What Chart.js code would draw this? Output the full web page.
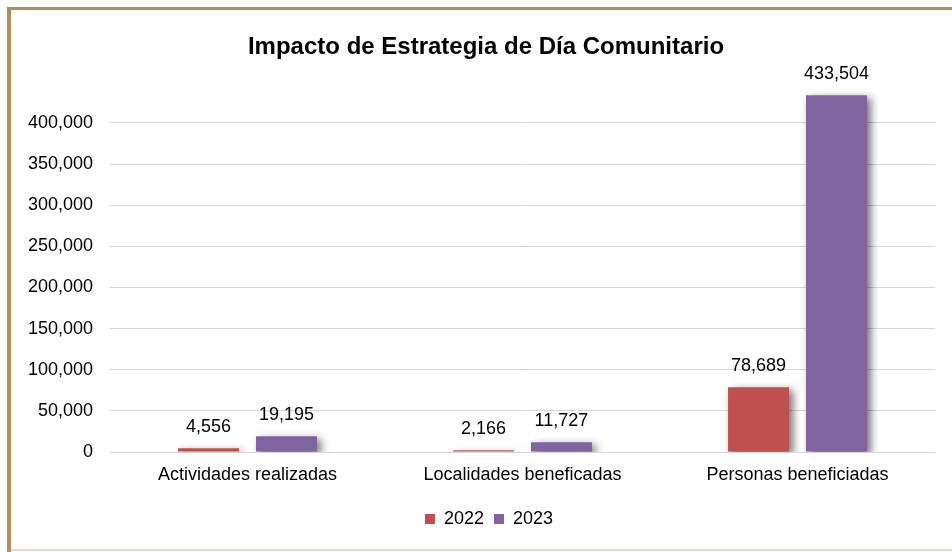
<!DOCTYPE html>
<html>
<head>
<meta charset="utf-8">
<script src="https://cdn.jsdelivr.net/npm/chart.js@4.4.1/dist/chart.umd.min.js"></script>
<style>
  html, body { margin:0; padding:0; background:#fff; }
  body { width:952px; height:552px; position:relative; overflow:hidden; font-family:"Liberation Sans", Arial, sans-serif; }
  #bl { position:absolute; left:7px; top:7px; width:4px; height:545px; background:#b28e5e; }
  #bt { position:absolute; left:7px; top:7px; width:945px; height:3px; background:#b28e5e; }
  #bb { position:absolute; left:11px; top:549px; width:941px; height:2px; background:#e2d9cb; }
  #wrap { position:absolute; left:0; top:0; width:952px; height:552px; }
</style>
</head>
<body>
<div id="bl"></div><div id="bt"></div><div id="bb"></div>
<div id="wrap"><canvas id="c" width="952" height="552"></canvas></div>
<script>
const categories = ["Actividades realizadas", "Localidades beneficadas", "Personas beneficiadas"];
const seriesNames = ["2022", "2023"];
const values2022 = [4556, 2166, 78689];
const values2023 = [19195, 11727, 433504];
const yTicks = [0, 50000, 100000, 150000, 200000, 250000, 300000, 350000, 400000];
const yMax = 450000;
const chartTitle = "Impacto de Estrategia de Día Comunitario";

const FONT = '"Liberation Sans", Arial, sans-serif';
const fmt = v => v.toLocaleString('en-US');

const shadowPlugin = {
  id: 'shadow',
  beforeDatasetsDraw(chart) {
    const ctx = chart.ctx;
    ctx.save();
    ctx.shadowColor = 'rgba(0,0,0,0.55)';
    ctx.shadowBlur = 8;
    ctx.shadowOffsetX = 4;
    ctx.shadowOffsetY = 3;
  },
  afterDatasetsDraw(chart) {
    chart.ctx.restore();
  }
};

// Centre title and legend the way the original does (slightly right of the plot centre)
const boxShift = {
  id: 'boxShift',
  afterLayout(chart) {
    if (chart.titleBlock) { chart.titleBlock.left += 13.5; chart.titleBlock.right += 13.5; }
    if (chart.legend) { chart.legend.left += 16.5; chart.legend.right += 16.5; }
  }
};

const labelPlugin = {
  id: 'valueLabels',
  afterDraw(chart) {
    const ctx = chart.ctx;
    ctx.save();
    ctx.font = '18px ' + FONT;
    ctx.fillStyle = '#000';
    ctx.textAlign = 'center';
    ctx.textBaseline = 'alphabetic';
    chart.data.datasets.forEach((ds, i) => {
      const meta = chart.getDatasetMeta(i);
      meta.data.forEach((bar, j) => {
        ctx.fillText(fmt(ds.data[j]), bar.x, bar.y - 16);
      });
    });
    ctx.restore();
  }
};

new Chart(document.getElementById('c'), {
  type: 'bar',
  data: {
    labels: categories,
    datasets: [
      { label: seriesNames[0], data: values2022, backgroundColor: '#C0504D', categoryPercentage: 0.567, barPercentage: 0.782 },
      { label: seriesNames[1], data: values2023, backgroundColor: '#8064A2', categoryPercentage: 0.567, barPercentage: 0.782 }
    ]
  },
  options: {
    responsive: false,
    animation: false,
    layout: { padding: { left: 10, right: 17, top: 0, bottom: 14 } },
    scales: {
      x: {
        grid: { display: false, drawTicks: false },
        border: { display: false },
        afterFit(scale) { scale.height = 48; },
        ticks: { font: { size: 18, family: FONT }, color: '#000', padding: 12, maxRotation: 0 }
      },
      y: {
        min: 0,
        max: yMax,
        afterBuildTicks(scale) { scale.ticks = yTicks.map(v => ({ value: v })); },
        afterFit(scale) { scale.width = 100; },
        grid: { color: '#d6d6d6', lineWidth: 1, drawTicks: false },
        border: { display: false },
        ticks: { font: { size: 18, family: FONT }, color: '#000', padding: 17, callback: v => fmt(v) }
      }
    },
    plugins: {
      title: {
        display: true,
        text: chartTitle,
        font: { size: 24, weight: 'bold', family: FONT },
        color: '#000',
        padding: { top: 33, bottom: 20 }
      },
      legend: {
        position: 'bottom',
        labels: { font: { size: 18, family: FONT }, color: '#000', boxWidth: 10, boxHeight: 10, padding: 10 }
      },
      tooltip: { enabled: false }
    }
  },
  plugins: [shadowPlugin, labelPlugin, boxShift]
});
</script>
</body>
</html>
